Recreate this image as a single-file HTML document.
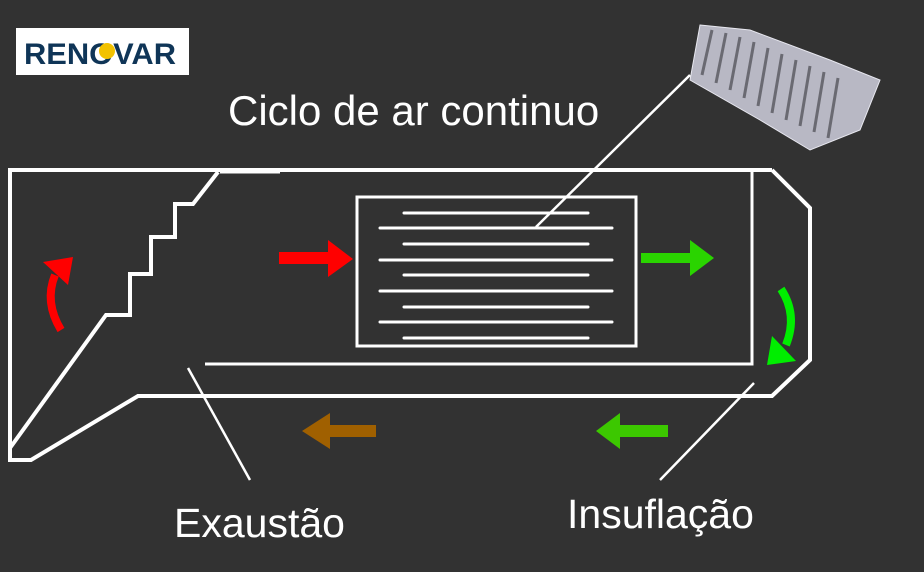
<!DOCTYPE html>
<html><head><meta charset="utf-8"><style>
html,body{margin:0;padding:0;background:#323232;}
svg{display:block}
text{font-family:"Liberation Sans",Arial,sans-serif;fill:#fff}
</style></head><body>
<svg width="924" height="572" viewBox="0 0 924 572" xmlns="http://www.w3.org/2000/svg">
<rect width="924" height="572" fill="#323232"/>
<!-- logo -->
<rect x="16" y="28" width="173" height="47" fill="#fff"/>
<text x="24" y="64" font-size="30" font-weight="bold" style="fill:#0f3557" textLength="152" lengthAdjust="spacingAndGlyphs">RENOVAR</text>
<circle cx="107" cy="51" r="8" fill="#f2c200"/>
<!-- heat exchanger image approx -->
<g fill="#b8b8c4" stroke="#e8e8f0" stroke-width="1">
<polygon points="700,25 750,30 830,60 880,80 860,130 810,150 760,120 690,80"/>
</g>
<g stroke="#6a6a72" stroke-width="3">
<line x1="712" y1="30" x2="702" y2="75"/><line x1="726" y1="33" x2="716" y2="83"/>
<line x1="740" y1="37" x2="730" y2="90"/><line x1="754" y1="42" x2="744" y2="98"/>
<line x1="768" y1="48" x2="758" y2="106"/><line x1="782" y1="54" x2="772" y2="113"/>
<line x1="796" y1="60" x2="786" y2="120"/><line x1="810" y1="66" x2="800" y2="126"/>
<line x1="824" y1="72" x2="814" y2="132"/><line x1="838" y1="78" x2="828" y2="138"/>
</g>
<!-- title -->
<text x="228" y="125" font-size="42">Ciclo de ar continuo</text>
<text x="174" y="537" font-size="41">Exaustão</text>
<text x="567" y="528" font-size="41">Insuflação</text>
<!-- outer outline -->
<g fill="none" stroke="#fff" stroke-width="4" stroke-linejoin="miter">
<polyline points="772,170 810,208 810,360 772,396 138,396 31,460 10,460 10,170 772,170"/>
<polyline points="10,448 106,315 130,315 130,274 151,274 151,237 175,237 175,204 193,204 218,172"/>
</g>
<line x1="220" y1="172" x2="280" y2="172" stroke="#fff" stroke-width="3"/>
<polyline points="752,172 752,364 205,364" fill="none" stroke="#fff" stroke-width="3"/>
<!-- exchanger rect -->
<rect x="357" y="197" width="279" height="149" fill="none" stroke="#fff" stroke-width="3"/>
<g stroke="#fff" stroke-width="3" stroke-linecap="round">
<line x1="404" y1="213" x2="588" y2="213"/><line x1="380" y1="228" x2="612" y2="228"/>
<line x1="404" y1="244" x2="588" y2="244"/><line x1="380" y1="260" x2="612" y2="260"/>
<line x1="404" y1="275" x2="588" y2="275"/><line x1="380" y1="291" x2="612" y2="291"/>
<line x1="404" y1="307" x2="588" y2="307"/><line x1="380" y1="322" x2="612" y2="322"/>
<line x1="404" y1="338" x2="588" y2="338"/>
</g>
<!-- leader lines -->
<g stroke="#fff" stroke-width="2.5">
<line x1="536" y1="227" x2="690" y2="75"/>
<line x1="188" y1="368" x2="250" y2="480"/>
<line x1="754" y1="383" x2="660" y2="480"/>
</g>
<!-- straight arrows -->
<polygon points="279,252 328,252 328,240 353,259 328,277 328,264 279,264" fill="#ff0000"/>
<polygon points="641,253 690,253 690,240 714,258 690,276 690,263 641,263" fill="#2ad400"/>
<polygon points="668,425 620,425 620,413 596,431 620,449 620,437 668,437" fill="#3cc800"/>
<polygon points="376,425 330,425 330,413 302,431 330,449 330,437 376,437" fill="#a06000"/>
<!-- curved arrows -->
<path d="M61,330 Q44,302 55,275" fill="none" stroke="#ff0000" stroke-width="8"/>
<polygon points="43,262 73,257 68,285" fill="#ff0000"/>
<path d="M781,289 Q798,315 786,345" fill="none" stroke="#00ee00" stroke-width="8"/>
<polygon points="767,365 772,336 796,361" fill="#00ee00"/>
</svg>
</body></html>
